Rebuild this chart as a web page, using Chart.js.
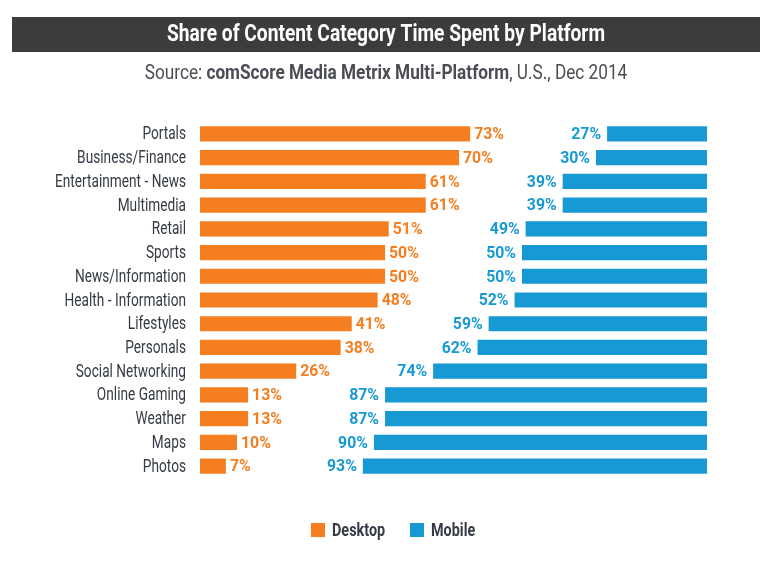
<!DOCTYPE html>
<html><head><meta charset="utf-8">
<script src="https://cdn.jsdelivr.net/npm/chart.js@4/dist/chart.umd.min.js"></script>
<style>html,body{margin:0;padding:0;background:#fff;}#wrap{position:relative;width:773px;height:565px;}</style>
</head><body><div id="wrap"><canvas id="c" width="773" height="565"></canvas></div>
<script>
const categories = ["Portals","Business/Finance","Entertainment - News","Multimedia","Retail","Sports","News/Information","Health - Information","Lifestyles","Personals","Social Networking","Online Gaming","Weather","Maps","Photos"];
const desktop = [73,70,61,61,51,50,50,48,41,38,26,13,13,10,7];
const mobile = [27,30,39,39,49,50,50,52,59,62,74,87,87,90,93];
const seriesNames = ["Desktop","Mobile"];
const titleText = "Share of Content Category Time Spent by Platform";
const subtitleParts = [["Source: ",false],["comScore Media Metrix Multi-Platform",true],[", U.S., Dec 2014",false]];
const SPAN = 137;

const FONT = "Roboto, 'Liberation Sans', sans-serif";
const ORANGE = "#f47e20", BLUE = "#1799d4", DARK = "#353a45";

function condText(ctx, text, x, y, align, font, color, sx){
  ctx.save();
  ctx.font = font; ctx.fillStyle = color; ctx.textBaseline = "middle";
  const w = ctx.measureText(text).width * sx;
  let left = x;
  if (align === "right") left = x - w; else if (align === "center") left = x - w/2;
  ctx.translate(left, y); ctx.scale(sx, 1); ctx.textAlign = "left";
  ctx.fillText(text, 0, 0);
  ctx.restore();
  return w;
}
function condWidth(ctx, text, font, sx){ ctx.save(); ctx.font = font; const w = ctx.measureText(text).width*sx; ctx.restore(); return w; }

const deco = {
  id:'deco',
  beforeDraw(chart){
    const ctx = chart.ctx;
    ctx.save();
    ctx.fillStyle = "#fff"; ctx.fillRect(0,0,chart.width,chart.height);
    ctx.fillStyle = "#3c3c3c"; ctx.fillRect(12,17,748,35);
    ctx.restore();
    condText(ctx, titleText, 386, 35, "center", "bold 24px " + FONT, "#fff", 0.8);
    const SSX = 0.86;
    const fonts = subtitleParts.map(([t,b])=>(b?"bold ":"")+"20px "+FONT);
    let total = 0;
    const ws = subtitleParts.map(([t],i)=>{const w=condWidth(ctx,t,fonts[i],SSX); total+=w; return w;});
    let x = 386 - total/2;
    subtitleParts.forEach(([t],i)=>{ condText(ctx,t,x,74,"left",fonts[i],"#4a4d55",SSX); x+=ws[i]; });
  },
  afterDatasetsDraw(chart){
    const ctx = chart.ctx;
    const ys = chart.scales.y;
    categories.forEach((c,i)=>{
      condText(ctx, c, 186, ys.getPixelForValue(i)+1, "right", "18px "+FONT, DARK, 0.76);
    });
    const vf = "bold 17px " + FONT;
    chart.getDatasetMeta(0).data.forEach((el,i)=>{
      condText(ctx, desktop[i]+"%", Math.max(el.x,el.base)+4, el.y+1, "left", vf, ORANGE, 0.93);
    });
    chart.getDatasetMeta(1).data.forEach((el,i)=>{
      condText(ctx, mobile[i]+"%", Math.min(el.x,el.base)-6, el.y+1, "right", vf, BLUE, 0.93);
    });
    const items = [[seriesNames[0],ORANGE,311],[seriesNames[1],BLUE,410]];
    items.forEach(([t,c,x])=>{
      ctx.fillStyle=c; ctx.fillRect(x,523,14,14);
      condText(ctx, t, x+21, 531, "left", "bold 18px "+FONT, DARK, 0.8);
    });
  }
};

new Chart(document.getElementById('c'), {
  type:'bar',
  data:{
    labels:categories,
    datasets:[
      {label:seriesNames[0], data:desktop.map(v=>[0,v]), backgroundColor:ORANGE, grouped:false, barPercentage:0.64, categoryPercentage:1},
      {label:seriesNames[1], data:mobile.map(v=>[SPAN-v,SPAN]), backgroundColor:BLUE, grouped:false, barPercentage:0.64, categoryPercentage:1}
    ]
  },
  options:{
    indexAxis:'y', responsive:false, animation:false,
    layout:{padding:{top:122,bottom:87,right:66,left:0}},
    plugins:{legend:{display:false},tooltip:{enabled:false},title:{display:false}},
    scales:{
      x:{display:false,min:0,max:SPAN},
      y:{grid:{display:false,drawTicks:false},border:{display:false},
         ticks:{display:false},
         afterFit(s){s.width=200;}}
    }
  },
  plugins:[deco]
});
</script></body></html>
